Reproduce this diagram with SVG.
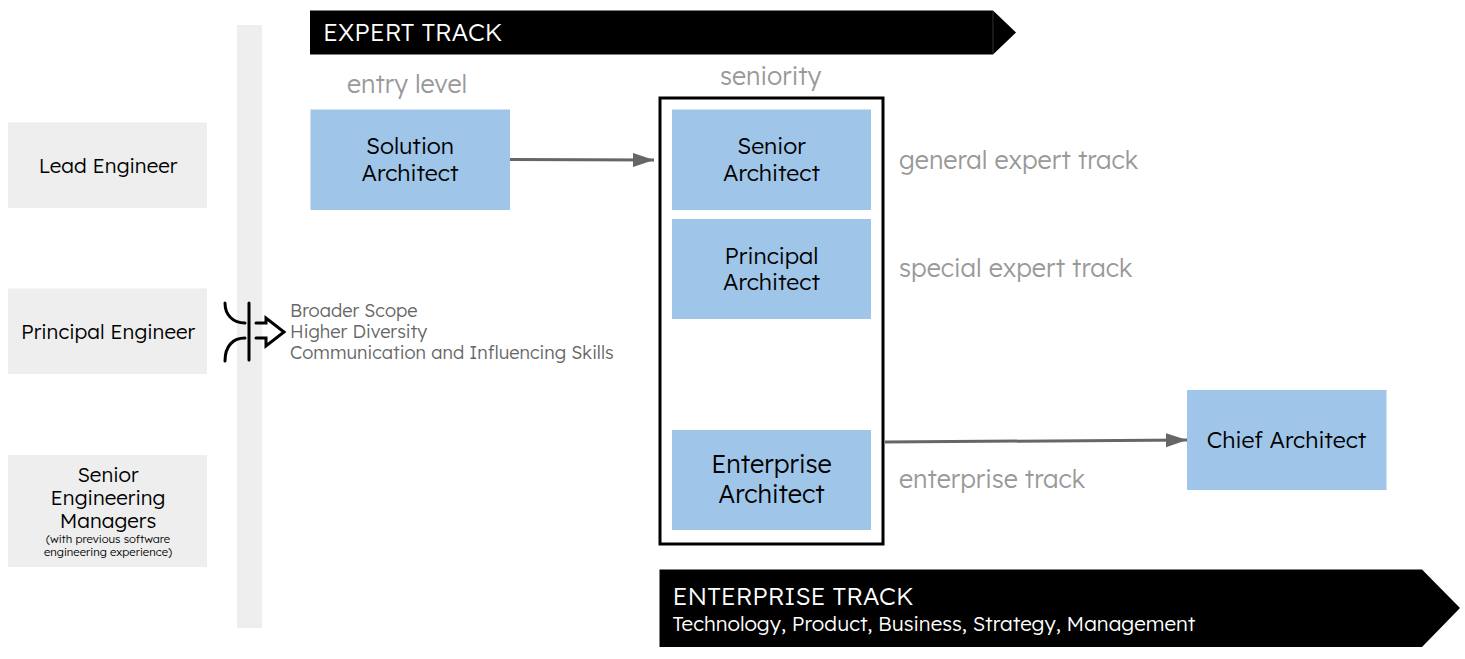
<svg xmlns="http://www.w3.org/2000/svg" width="1465" height="659" viewBox="0 0 1465 659">
<style>
text{font-family:Lexend,"Noto Sans",Inter,"Liberation Sans",sans-serif;font-weight:300;text-anchor:middle;fill:#000}
.g{fill:#eeeeee}.b{fill:#9fc5e8}
.t{font-size:20.500px}
.a{font-size:23px}
.m{font-size:25.100px;fill:#999;text-anchor:start}
.s{font-size:18.200px;fill:#666;text-anchor:start}
.w{fill:#fff;text-anchor:start}
.c{fill:none;stroke:#666;stroke-width:3}
</style>
<defs><marker id="a" markerUnits="userSpaceOnUse" markerWidth="22" markerHeight="16" refX="21" refY="8" orient="auto"><path d="M0 1L21 8L0 15Z" fill="#666"/></marker></defs>
<rect width="1465" height="659" fill="#fff"/>
<rect class="g" x="237" y="25" width="25" height="603"/>
<g id="lead"><rect class="g" x="8" y="122.500" width="199" height="85.500"/><text class="t" x="108" y="173">Lead Engineer</text></g>
<g id="principal-eng"><rect class="g" x="8" y="288.500" width="199" height="85.500"/><text class="t" x="108" y="339">Principal Engineer</text></g>
<g id="sem"><rect class="g" x="8" y="455" width="199" height="112"/><text class="t" x="108" y="482">Senior</text><text class="t" x="108" y="505">Engineering</text><text class="t" x="108" y="528">Managers</text><text font-size="11.300" x="108" y="543">(with previous software</text><text font-size="11.300" x="108" y="556">engineering experience)</text></g>
<g id="merge" fill="none" stroke="#000" stroke-width="3" stroke-linecap="round"><path d="M249 303V360"/><path d="M225 303C225 315 233 323 245 323M225 361C225 346 233 338 245 338"/><path d="M256 323H266V318L284 332L266 346V338H256"/></g>
<g id="notes"><text class="s" x="290" y="317">Broader Scope</text><text class="s" x="290" y="338">Higher Diversity</text><text class="s" x="290" y="359">Communication and Influencing Skills</text></g>
<g id="expert-track"><path d="M310 10.500H993L1016 32.500L993 54.500H310Z" fill="#000"/><path d="M993 11V54" stroke="#333" fill="none"/><text class="w" x="323" y="41" font-size="25">EXPERT TRACK</text></g>
<g id="enterprise-banner"><path d="M659.500 569.500H1422L1460 608L1422 647H659.500Z" fill="#000"/><text class="w" x="672.500" y="605" font-size="25">ENTERPRISE TRACK</text><text class="w" x="672.500" y="631" font-size="20.500">Technology, Product, Business, Strategy, Management</text></g>
<text class="m" x="347" y="93">entry level</text><text class="m" x="720" y="85">seniority</text>
<rect x="660" y="98" width="223" height="446" fill="none" stroke="#000" stroke-width="3"/>
<g id="solution"><rect class="b" x="310.500" y="109.500" width="199.500" height="100.500"/><text class="a" x="410" y="154">Solution</text><text class="a" x="410" y="181">Architect</text></g>
<g id="senior"><rect class="b" x="672" y="109.500" width="199" height="100.500"/><text class="a" x="771.500" y="154">Senior</text><text class="a" x="771.500" y="181">Architect</text></g>
<g id="principal"><rect class="b" x="672" y="219" width="199" height="100"/><text class="a" x="771.500" y="263.500">Principal</text><text class="a" x="771.500" y="290">Architect</text></g>
<g id="enterprise"><rect class="b" x="672" y="430" width="199" height="100"/><text x="771.500" y="473" font-size="25.300">Enterprise</text><text x="771.500" y="503" font-size="25.300">Architect</text></g>
<g id="chief"><rect class="b" x="1187" y="390" width="199.500" height="100"/><text class="a" x="1286.500" y="448">Chief Architect</text></g>
<text class="m" x="899" y="168.500">general expert track</text><text class="m" x="899" y="277">special expert track</text><text class="m" x="899" y="488">enterprise track</text>
<g id="connectors"><path class="c" d="M510 159.500L654 160" marker-end="url(#a)"/><path class="c" d="M885 442L1187 440" marker-end="url(#a)"/></g>
</svg>
